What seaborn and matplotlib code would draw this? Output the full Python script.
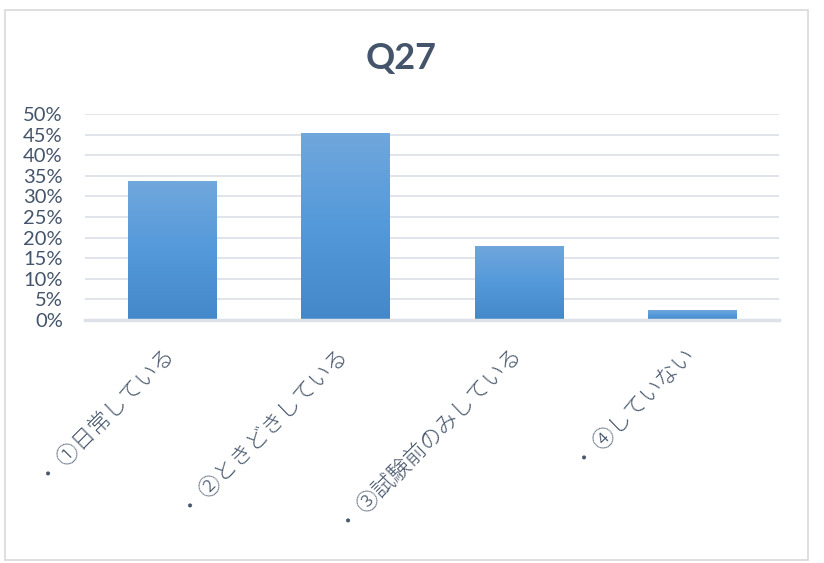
import matplotlib
matplotlib.use("Agg")
import matplotlib.pyplot as plt
import numpy as np
import pandas as pd
import seaborn as sns
from matplotlib.colors import LinearSegmentedColormap
from matplotlib.patches import Rectangle

# data
categories = ["・ ①日常している", "・ ②ときどきしている", "・ ③試験前のみしている", "・ ④していない"]
shares = [0.337, 0.454, 0.180, 0.024]
ytick_values = [0.00, 0.05, 0.10, 0.15, 0.20, 0.25, 0.30, 0.35, 0.40, 0.45, 0.50]
ytick_labels = ["0%", "5%", "10%", "15%", "20%", "25%", "30%", "35%", "40%", "45%", "50%"]
title = "Q27"

sns.set_theme(style="white")
plt.rcParams["font.family"] = ["Noto Sans CJK JP", "DejaVu Sans"]

text_color = "#44546A"
grid_color = "#DEE2E8"

df = pd.DataFrame({"category": categories, "share": shares})

fig = plt.figure(figsize=(8.24, 5.63), dpi=100)
W, H = 824, 563

# chart border
fig.patches.append(Rectangle((5 / W, (563 - 560) / H), 803 / W, 550 / H,
                             transform=fig.transFigure, fill=False,
                             edgecolor="#D9D9D9", linewidth=1.2))

ax = fig.add_axes([85 / W, (563 - 320) / H, 694 / W, 206 / H])

sns.barplot(data=df, x="category", y="share", ax=ax, width=0.51,
            color="#5B9BD5", saturation=1, zorder=3)

# vertical gradient fill for each bar
grad = LinearSegmentedColormap.from_list("bar", ["#4488C9", "#5499DA", "#70A7DC"])
for patch in ax.patches:
    x0, y0 = patch.get_x(), patch.get_y()
    w, h = patch.get_width(), patch.get_height()
    patch.set_facecolor("none")
    patch.set_edgecolor("none")
    img = ax.imshow(np.linspace(0, 1, 100).reshape(-1, 1), cmap=grad,
                    extent=[x0, x0 + w, y0, y0 + h], origin="lower",
                    aspect="auto", zorder=3)
    img.set_clip_path(patch)

ax.set_xlim(-0.5, len(categories) - 0.5)
ax.set_ylim(0, 0.5)
ax.set_yticks(ytick_values)
ax.set_yticklabels(ytick_labels, family=["Lato", "DejaVu Sans"], fontsize=14.5,
                   color=text_color)
ax.yaxis.grid(True, color=grid_color, linewidth=1.3, zorder=0)
ax.tick_params(axis="y", length=0, pad=16)
ax.tick_params(axis="x", length=0, pad=24)

ax.set_xticks(range(len(categories)))
ax.set_xticklabels(categories, rotation=45, ha="right", va="center",
                   rotation_mode="anchor", fontsize=16, fontweight="light",
                   color=text_color)

ax.set_xlabel("")
ax.set_ylabel("")
for side in ["top", "right", "left"]:
    ax.spines[side].set_visible(False)
ax.spines["bottom"].set_color(grid_color)
ax.spines["bottom"].set_linewidth(2.5)
ax.spines["bottom"].set_zorder(4)

fig.text(401 / W, 1 - 59 / H, title, ha="center", va="center",
         fontsize=26, fontweight="bold", color=text_color,
         family=["Lato", "DejaVu Sans"])

fig.savefig("out.png", dpi=100)
